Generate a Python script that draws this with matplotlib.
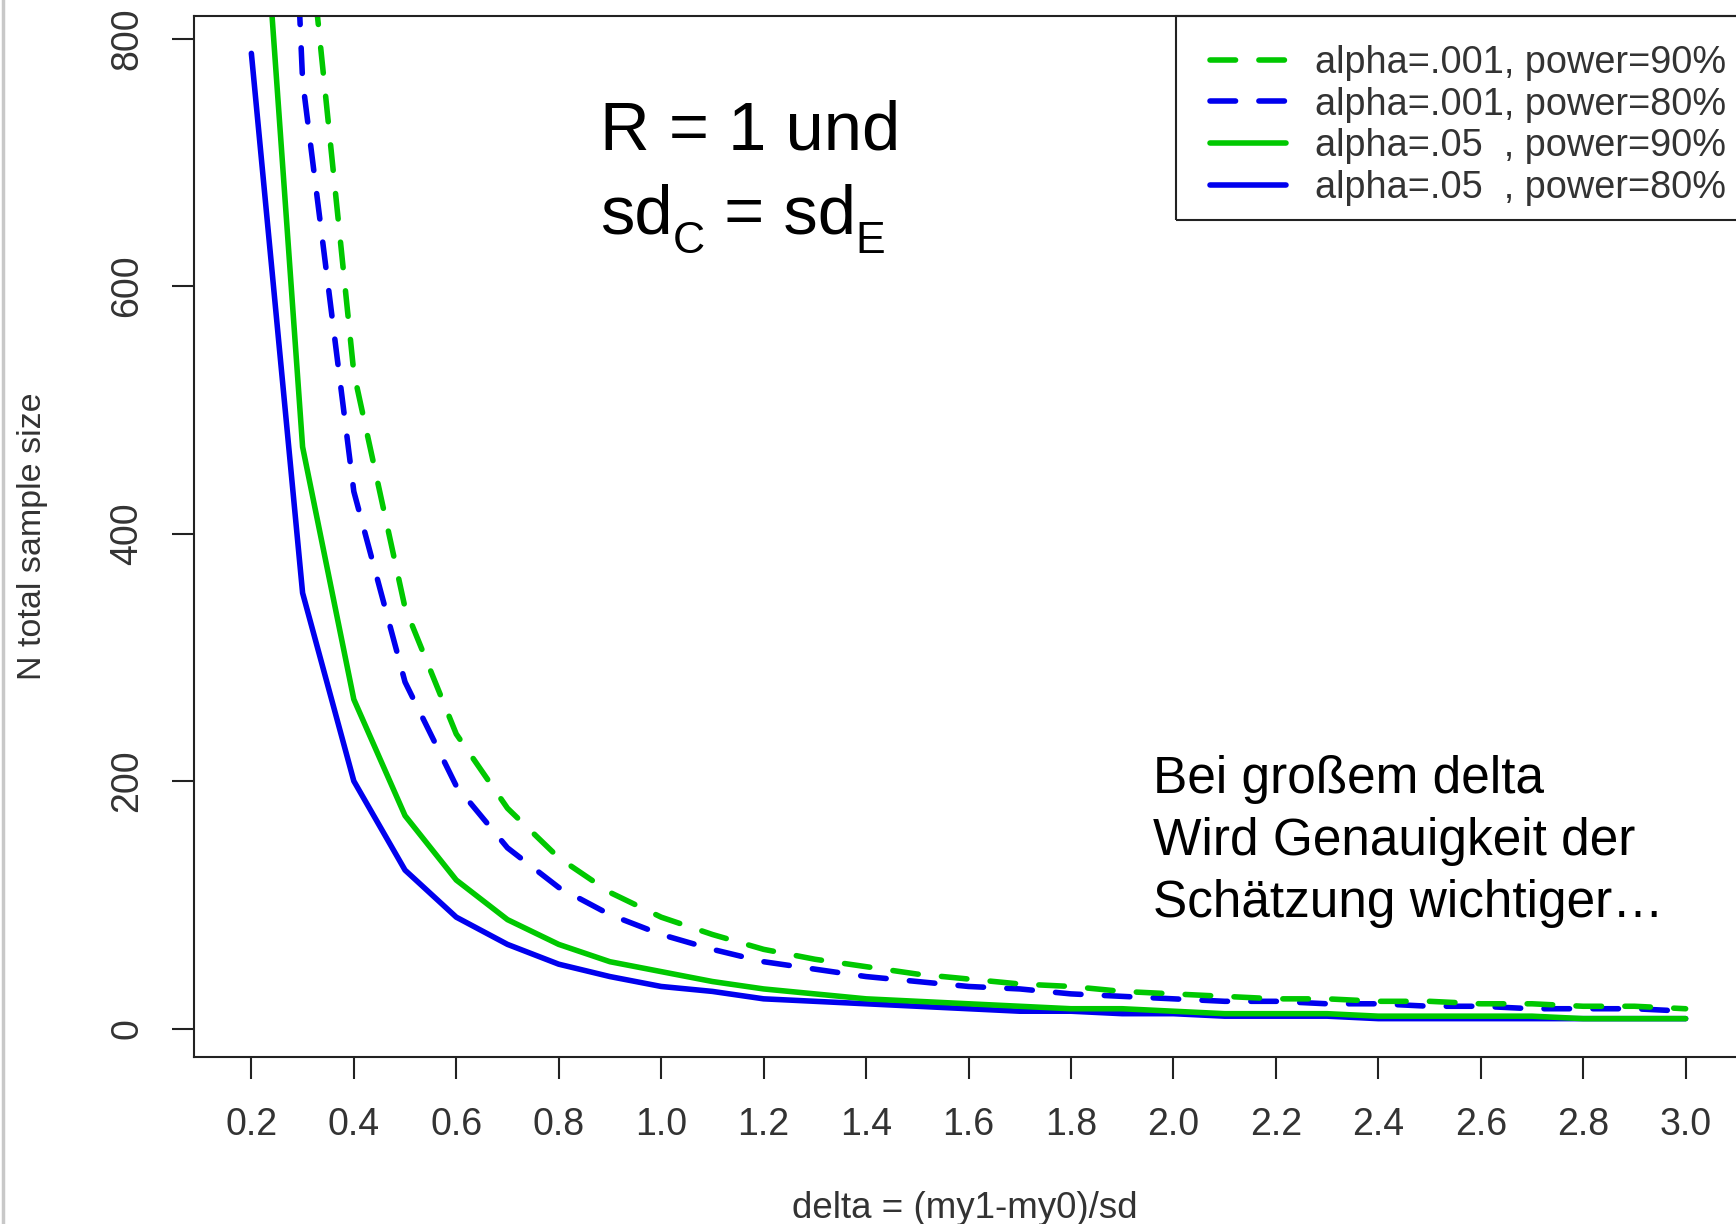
import matplotlib
matplotlib.use("Agg")
import matplotlib.pyplot as plt
from matplotlib.lines import Line2D
from matplotlib.patches import Rectangle

plt.rcParams["font.family"] = ["Liberation Sans", "DejaVu Sans"]

# effect size grid and total sample sizes per design
delta = [0.2, 0.3, 0.4, 0.5, 0.6, 0.7, 0.8, 0.9, 1.0, 1.1, 1.2, 1.3, 1.4, 1.5,
         1.6, 1.7, 1.8, 1.9, 2.0, 2.1, 2.2, 2.3, 2.4, 2.5, 2.6, 2.7, 2.8, 2.9, 3.0]

n_a05_p80 = [788, 352, 200, 128, 90, 68, 52, 42, 34, 30, 24, 22, 20, 18,
             16, 14, 14, 12, 12, 10, 10, 10, 8, 8, 8, 8, 8, 8, 8]
n_a05_p90 = [1054, 470, 266, 172, 120, 88, 68, 54, 46, 38, 32, 28, 24, 22,
             20, 18, 16, 16, 14, 12, 12, 12, 10, 10, 10, 10, 8, 8, 8]
n_a001_p80 = [1714, 766, 434, 280, 196, 146, 114, 92, 76, 64, 54, 48, 42, 38,
              34, 32, 28, 26, 24, 22, 22, 20, 20, 18, 18, 16, 16, 16, 14]
n_a001_p90 = [2096, 936, 530, 340, 238, 178, 138, 110, 90, 76, 64, 56, 50, 44,
              40, 36, 34, 30, 28, 26, 24, 24, 22, 22, 20, 20, 18, 18, 16]

labels = ["alpha=.001, power=90%", "alpha=.001, power=80%",
          "alpha=.05  , power=90%", "alpha=.05  , power=80%"]

x_ticks = [0.2, 0.4, 0.6, 0.8, 1.0, 1.2, 1.4, 1.6, 1.8, 2.0, 2.2, 2.4, 2.6, 2.8, 3.0]
y_ticks = [0, 200, 400, 600, 800]

GREEN = "#00C800"
BLUE = "#0000EE"
TXT = "#333333"
LW = 4.0
DASH = (4.6, 4.2)

W, H = 1736, 1224
fig = plt.figure(figsize=(W / 100, H / 100), dpi=100)
ax = fig.add_axes([194 / W, 1 - 1057 / H, (1743 - 194) / W, (1057 - 15.5) / H])

ax.plot(delta, n_a05_p80, color=BLUE, lw=LW, solid_capstyle="round")
ax.plot(delta, n_a05_p90, color=GREEN, lw=LW, solid_capstyle="round")
ax.plot(delta, n_a001_p80, color=BLUE, lw=LW, dashes=DASH, dash_capstyle="round")
ax.plot(delta, n_a001_p90, color=GREEN, lw=LW, dashes=DASH, dash_capstyle="round")

ax.set_xlim(0.088, 3.112)
ax.set_ylim(-23, 818.6)
ax.set_xticks(x_ticks)
ax.set_xticklabels([f"{t:.1f}" for t in x_ticks])
ax.set_yticks(y_ticks)
ax.set_yticklabels([str(t) for t in y_ticks], rotation=90, va="center")

for side in ax.spines.values():
    side.set_linewidth(1.5)
    side.set_color("#222222")
ax.tick_params(axis="both", direction="out", length=16, width=1.5, color="#222222",
               labelsize=27, labelcolor=TXT)
ax.tick_params(axis="x", pad=20)
ax.tick_params(axis="y", pad=19)

fig.text(965 / W, 1 - 1208 / H, "delta = (my1-my0)/sd", fontsize=26.5, color=TXT,
         ha="center", va="center")
fig.text(33 / W, 1 - 536 / H, "N total sample size", fontsize=24.5, color=TXT,
         ha="center", va="center", rotation=90)

# legend: entries without frame, box drawn separately (top pad larger than bottom)
handles = [
    Line2D([], [], color=GREEN, lw=LW, dashes=DASH, dash_capstyle="round"),
    Line2D([], [], color=BLUE, lw=LW, dashes=DASH, dash_capstyle="round"),
    Line2D([], [], color=GREEN, lw=LW, solid_capstyle="round"),
    Line2D([], [], color=BLUE, lw=LW, solid_capstyle="round"),
]
leg = ax.legend(handles, labels, loc="upper right", bbox_to_anchor=(1.005, 0.9957),
                borderaxespad=0, fontsize=27.3, handlelength=2.0, handletextpad=0.75,
                labelspacing=0.15, borderpad=0.66, frameon=False)
for t in leg.get_texts():
    t.set_color(TXT)
fig.add_artist(Rectangle((1176 / W, 1 - 220 / H), (1760 - 1176) / W, (220 - 15.5) / H,
                         transform=fig.transFigure, fill=False, lw=1.5,
                         edgecolor="#222222", zorder=3))

# annotation: "R = 1 und" and sd_C = sd_E with lowered subscripts
fig.text(600 / W, 1 - 150 / H, "R = 1 und", fontsize=49.5, color="black",
         ha="left", va="baseline")

renderer = fig.canvas.get_renderer()
x_px = 600
base = 233
for piece, size, drop in [("sd", 49.5, 0), ("C", 32, 20), (" = sd", 49.5, 0), ("E", 32, 20)]:
    t = fig.text(x_px / W, 1 - (base + drop) / H, piece, fontsize=size, color="black",
                 ha="left", va="baseline")
    x_px += t.get_window_extent(renderer).width

note_lines = ["Bei großem delta", "Wird Genauigkeit der", "Schätzung wichtiger…"]
for i, line in enumerate(note_lines):
    fig.text(1153 / W, 1 - (793 + 62 * i) / H, line, fontsize=37, color="black",
             ha="left", va="baseline")

# thin grey frame line at the left border
fig.add_artist(Line2D([3 / W, 3 / W], [0, 1], color="#c8c8c8", lw=2.5,
                      transform=fig.transFigure))

fig.savefig("out.png", dpi=100)
